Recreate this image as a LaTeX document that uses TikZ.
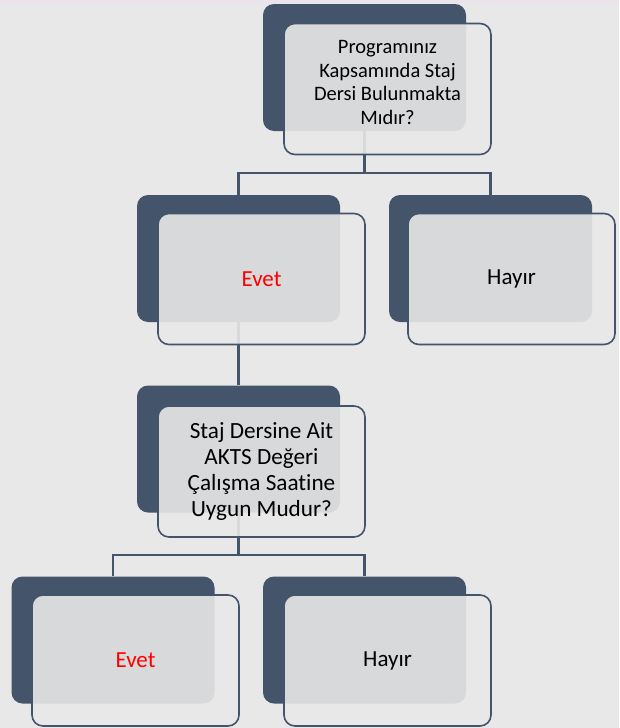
\documentclass[tikz,border=0pt]{standalone}
\usepackage{fontspec}
\setmainfont[Ligatures=NoCommon]{Carlito}
\definecolor{slate}{HTML}{44546A}
\definecolor{paper}{HTML}{E8E8E8}
\definecolor{topband}{HTML}{EDE3EC}
\begin{document}
\begin{tikzpicture}[x=1pt,y=-1pt,
  back/.style={fill=slate, rounded corners=11pt, minimum width=203pt, minimum height=127pt, inner sep=0pt},
  front/.style={draw=slate, line width=1.6pt, fill=paper, fill opacity=0.9, rounded corners=11pt,
                minimum width=207pt, minimum height=131pt, inner sep=0pt, text opacity=1, align=center},
  conn/.style={draw=slate, line width=2.6pt},
  answer/.style={front, font=\fontsize{23}{25}\selectfont}]
\fill[paper] (0,0) rectangle (619,728);
\fill[topband] (0,0) rectangle (619,3);
\useasboundingbox (0,0) rectangle (619,728);
% dark back plates
\node[back] (q1b) at (364.5,67.5) {};
\node[back] (e1b) at (238.5,258.5) {};
\node[back] (h1b) at (490.5,258.5) {};
\node[back] (q2b) at (238.5,449) {};
\node[back] (e2b) at (113,640) {};
\node[back] (h2b) at (364.5,640) {};
% connectors
\coordinate (j1) at (364.5,173);
\coordinate (j2) at (238.5,555);
\draw[conn] (q1b.south) -- (j1);
\draw[conn] (e1b.north) |- (j1) -| (h1b.north);
\draw[conn] (e1b.south) -- (q2b.north);
\draw[conn] (q2b.south) -- (j2);
\draw[conn] (e2b.north) |- (j2) -| (h2b.north);
% front boxes
\node[front] (q1) at (387.5,89) {};
\node[align=center, font=\fontsize{20.5}{23.7}\selectfont] (q1t) at (387.5,82.5)
  {Programınız\\Kapsamında Staj\\Dersi Bulunmakta\\Mıdır?};
\node[answer, text=red] (e1) at (261.5,279) {Evet};
\node[answer] (h1) at (511.5,279) {Hayır};
\node[front, font=\fontsize{23.2}{26.2}\selectfont] (q2) at (261.5,471.5)
  {Staj Dersine Ait\\AKTS Değeri\\Çalışma Saatine\\Uygun Mudur?};
\node[answer, text=red] (e2) at (135.5,660.5) {Evet};
\node[answer] (h2) at (387.5,660.5) {Hayır};
\end{tikzpicture}
\end{document}
